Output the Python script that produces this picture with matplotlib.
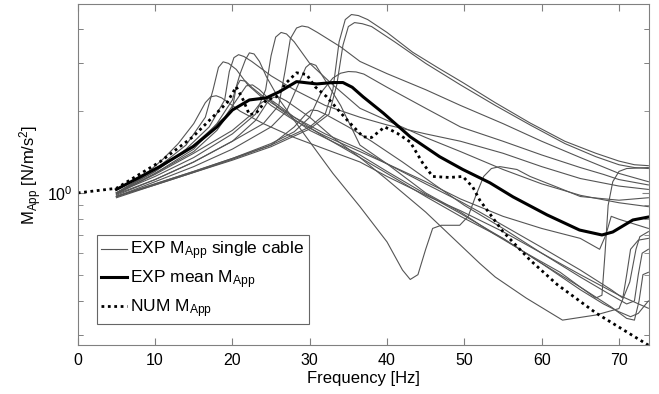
import matplotlib
matplotlib.use('Agg')
import matplotlib.pyplot as plt
from matplotlib.ticker import FixedLocator, FixedFormatter, LogLocator, NullFormatter

plt.rcParams['font.family'] = ['Liberation Sans', 'DejaVu Sans']
plt.rcParams['mathtext.default'] = 'regular'

cable_freq = {
    'A': [5, 10, 15, 20, 25, 30, 32, 33, 33.8, 34.6, 35.4, 36.3, 37.5, 40, 43.3, 46.5, 49.8, 54, 58.5, 63, 67, 70, 72, 73.8],
    'B': [5, 10, 15, 20, 25, 30, 32.5, 33.5, 34.3, 35, 35.8, 36.8, 38, 41, 45, 49.5, 54, 58.5, 63, 67, 70, 72, 73.8],
    'C': [5, 10, 15, 20, 24, 26, 26.8, 27.5, 28.3, 29, 29.8, 31, 34, 36.5, 40, 45, 49.5, 55, 60, 65, 70, 73.8],
    'D': [5, 10, 15, 20, 23, 24.3, 25, 25.6, 26.3, 27, 28, 30, 33, 36.5, 40, 45, 49.5, 55, 60, 65, 70, 73.8],
    'E': [5, 10, 15, 20, 25, 28, 30, 31.5, 33, 34, 35, 36, 37, 40, 45, 49.5, 55, 60, 65, 68, 70, 73.8],
    'F': [5, 10, 15, 18, 20, 21, 21.7, 22.2, 22.8, 23.5, 24.4, 26.1, 29.6, 33, 36.5, 40, 42, 43, 44, 45, 45.9, 47, 49.4,
          50.5, 51.5, 52.5, 53.5, 54.6, 56.8, 58.5, 62, 65, 70, 73.8],
    'G': [5, 10, 14, 17, 19, 19.6, 20.2, 20.8, 21.5, 22.5, 25, 28, 32, 36.5, 40, 45, 49.5, 55, 60, 65, 70, 73.8],
    'H': [5, 10, 14, 16.5, 17.5, 18.2, 18.8, 19.5, 20.5, 22, 25, 28, 32, 36.5, 40, 45, 49.5, 55, 60, 65, 67.5, 68.3,
          69, 70, 73.8],
    'I': [5, 10, 15, 18, 20, 20.5, 21, 21.7, 22.5, 25, 28, 32, 36.5, 40, 45, 49.5, 52, 55, 60, 65, 69, 70.5, 71, 71.5,
          72.5, 73.8],
    'J': [5, 8, 11, 13, 15, 16.5, 17.2, 17.9, 18.6, 19.5, 21, 24, 28, 32, 36.5, 40, 45, 49.5, 55, 60, 65, 69, 71, 72,
          72.5, 73, 73.8],
    'K': [5, 10, 15, 20, 25, 28, 29.5, 30.2, 31, 32, 35, 38, 42, 46, 50, 55, 60, 65, 70, 73.8],
    'L': [5, 10, 15, 20, 22.5, 23.5, 24.3, 25.2, 26, 28, 32, 36.5, 40, 45, 49.5, 55, 60, 65, 69, 71, 72, 72.6, 73.1, 73.8],
    'M': [5, 10, 15, 19, 21, 21.8, 22.6, 23.5, 26, 30, 36.5, 40, 45, 49.5, 55, 60, 65, 68, 70, 71.5, 72.5, 73.8],
    'N': [5, 10, 15, 20, 25, 27, 28.5, 29.5, 30.1, 30.8, 32, 34, 36.5, 40, 45, 49.5, 53.7, 58, 62.4, 65, 67, 67.8,
          68.2, 68.6, 69.2, 70, 71, 73.8],
    'O': [5, 10, 15, 20, 23, 24.5, 25.3, 26.1, 27, 30, 33, 36.5, 40, 45, 52, 54, 58, 62.7, 67, 70, 71.4, 72.2, 72.7, 73.8],
}
cable_mapp = {
    'A': [0.97, 1.08, 1.2, 1.34, 1.5, 1.75, 1.95, 2.4, 3.6, 4.35, 4.54, 4.5, 4.35, 3.9, 3.3, 2.9, 2.55, 2.15, 1.81,
          1.55, 1.40, 1.31, 1.27, 1.26],
    'B': [0.96, 1.07, 1.19, 1.32, 1.48, 1.72, 1.95, 2.5, 3.5, 4.1, 4.24, 4.2, 4.1, 3.6, 3.0, 2.5, 2.1, 1.78, 1.52,
          1.36, 1.27, 1.24, 1.23],
    'C': [0.99, 1.12, 1.3, 1.55, 1.8, 2.1, 2.8, 3.7, 4.05, 4.12, 4.08, 3.9, 3.45, 3.05, 2.75, 2.4, 2.1, 1.8, 1.55,
          1.35, 1.18, 1.10],
    'D': [1.0, 1.15, 1.35, 1.65, 1.95, 2.4, 3.2, 3.75, 3.9, 3.85, 3.6, 3.0, 2.5, 2.05, 1.85, 1.6, 1.42, 1.22, 1.08,
          0.98, 0.92, 0.89],
    'E': [0.97, 1.08, 1.2, 1.34, 1.52, 1.68, 1.9, 2.35, 2.65, 2.76, 2.8, 2.79, 2.74, 2.45, 2.05, 1.75, 1.55, 1.38,
          1.24, 1.17, 1.12, 1.07],
    'F': [0.99, 1.18, 1.45, 1.8, 2.2, 2.75, 3.1, 3.28, 3.25, 3.05, 2.68, 2.2, 1.6, 1.18, 0.89, 0.66, 0.52, 0.48, 0.5,
          0.62, 0.74, 0.76, 0.76, 0.82, 0.98, 1.15, 1.23, 1.25, 1.22, 1.15, 1.05, 0.97, 0.94, 0.96],
    'G': [1.0, 1.2, 1.45, 1.75, 2.2, 2.8, 3.15, 3.23, 3.18, 3.05, 2.7, 2.4, 2.1, 1.9, 1.78, 1.65, 1.55, 1.4, 1.25,
          1.13, 1.06, 1.03],
    'H': [1.0, 1.22, 1.5, 1.9, 2.4, 2.9, 3.04, 3.0, 2.85, 2.5, 2.1, 1.85, 1.62, 1.42, 1.28, 1.1, 0.95, 0.82, 0.74,
          0.68, 0.62, 0.7, 0.82, 0.8, 0.74],
    'I': [0.99, 1.18, 1.42, 1.7, 2.05, 2.45, 2.6, 2.58, 2.45, 2.15, 1.9, 1.65, 1.45, 1.28, 1.08, 0.93, 0.85, 0.76,
          0.63, 0.52, 0.44, 0.41, 0.5, 0.62, 0.67, 0.68],
    'J': [1.0, 1.12, 1.33, 1.52, 1.8, 2.15, 2.26, 2.28, 2.24, 2.15, 2.0, 1.8, 1.6, 1.45, 1.3, 1.15, 0.98, 0.86, 0.72,
          0.6, 0.49, 0.42, 0.39, 0.4, 0.5, 0.6, 0.62],
    'K': [0.97, 1.07, 1.19, 1.33, 1.5, 1.75, 1.95, 2.02, 2.01, 1.95, 1.75, 1.55, 1.3, 1.08, 0.9, 0.74, 0.6, 0.5,
          0.42, 0.376],
    'L': [1.0, 1.17, 1.4, 1.7, 1.95, 2.12, 2.2, 2.18, 2.1, 1.9, 1.6, 1.35, 1.18, 0.97, 0.82, 0.68, 0.55, 0.45, 0.38,
          0.345, 0.34, 0.4, 0.5, 0.51],
    'M': [1.0, 1.2, 1.5, 1.9, 2.3, 2.48, 2.5, 2.4, 2.05, 1.7, 1.38, 1.2, 0.99, 0.84, 0.68, 0.55, 0.44, 0.39, 0.365,
          0.35, 0.36, 0.40],
    'N': [0.97, 1.1, 1.25, 1.45, 1.75, 2.0, 2.5, 2.9, 3.0, 2.95, 2.6, 2.1, 1.5, 1.28, 1.0, 0.85, 0.71, 0.6, 0.51,
          0.45, 0.41, 0.42, 0.6, 0.9, 1.1, 1.2, 1.23, 1.24],
    'O': [0.98, 1.12, 1.3, 1.55, 1.85, 2.15, 2.25, 2.25, 2.18, 1.9, 1.6, 1.35, 1.12, 0.85, 0.55, 0.49, 0.41, 0.34,
          0.355, 0.375, 0.47, 0.62, 0.69, 0.72],
}

# experimental mean
mean_freq = [5, 10.6, 14.9, 18, 20, 22.2, 24.4, 26.1, 28.3, 30.9, 33, 34.3, 35.5, 36.9, 39.5, 43, 46.8, 49.8, 53.3,
             56.3, 60.7, 64.9, 67.8, 69.2, 71.8, 73.8]
mean_mapp = [1.03, 1.25, 1.48, 1.75, 2.02, 2.2, 2.24, 2.36, 2.57, 2.52, 2.55, 2.55, 2.45, 2.26, 1.97, 1.61, 1.36,
             1.22, 1.09, 0.967, 0.83, 0.73, 0.70, 0.718, 0.795, 0.815]

# numerical model
num_freq = [0, 5, 10.6, 14.9, 17.1, 19.3, 20.5, 21.4, 22.2, 23.1, 24.4, 25.7, 27, 28.3, 29.6, 30.7, 32.2, 34.8,
            36.9, 38, 39.7, 41.3, 43, 44.6, 45.9, 48.1, 49.8, 51.1, 52, 55, 58.5, 62, 67.1, 73.8]
num_mapp = [1.0, 1.04, 1.30, 1.61, 1.86, 2.15, 2.46, 2.2, 1.94, 1.97, 2.2, 2.26, 2.55, 2.77, 2.73, 2.46, 2.26, 1.86,
            1.61, 1.6, 1.75, 1.66, 1.54, 1.29, 1.15, 1.14, 1.15, 1.05, 0.94, 0.72, 0.566, 0.46, 0.36, 0.275]

fig = plt.figure(figsize=(6.59, 3.94), dpi=100)
ax = fig.add_axes([0.118, 0.124, 0.867, 0.865])

first = True
for key in cable_freq:
    ax.plot(cable_freq[key], cable_mapp[key], color='#555555', lw=0.8,
            label=r'EXP M$_{App}$ single cable' if first else None)
    first = False
ax.plot(mean_freq, mean_mapp, color='black', lw=2.2, label=r'EXP mean M$_{App}$')
ax.plot(num_freq, num_mapp, color='black', lw=2.0, linestyle=(0, (1, 1.3)), label=r'NUM M$_{App}$')

ax.set_yscale('log')
ax.set_xlim(0, 73.9)
ax.set_ylim(0.275, 4.95)
ax.set_xticks([0, 10, 20, 30, 40, 50, 60, 70])
ax.yaxis.set_major_locator(FixedLocator([1.0]))
ax.yaxis.set_major_formatter(FixedFormatter([r'$10^0$']))
ax.yaxis.set_minor_locator(LogLocator(subs=[0.3, 0.4, 0.5, 0.6, 0.7, 0.8, 0.9, 2, 3, 4]))
ax.yaxis.set_minor_formatter(NullFormatter())

for s in ax.spines.values():
    s.set_color('#808080')
ax.tick_params(which='both', direction='in', top=True, right=True, colors='#808080',
               labelcolor='black', labelsize=11.5)
ax.tick_params(which='major', length=5)
ax.tick_params(which='minor', length=3.5)
ax.tick_params(axis='x', pad=6)

ax.set_xlabel('Frequency [Hz]', fontsize=12, labelpad=2)
ax.set_ylabel(r'M$_{App}$ [N/m/s$^2$]', fontsize=12, labelpad=2)

leg = ax.legend(loc='lower left', bbox_to_anchor=(0.033, 0.062), borderaxespad=0, fontsize=12.5,
                fancybox=False, edgecolor='#666666', handlelength=1.5, handletextpad=0.2,
                borderpad=0.25, labelspacing=0.35, framealpha=1)
leg.get_frame().set_linewidth(0.8)

plt.savefig('out.png', dpi=100)
